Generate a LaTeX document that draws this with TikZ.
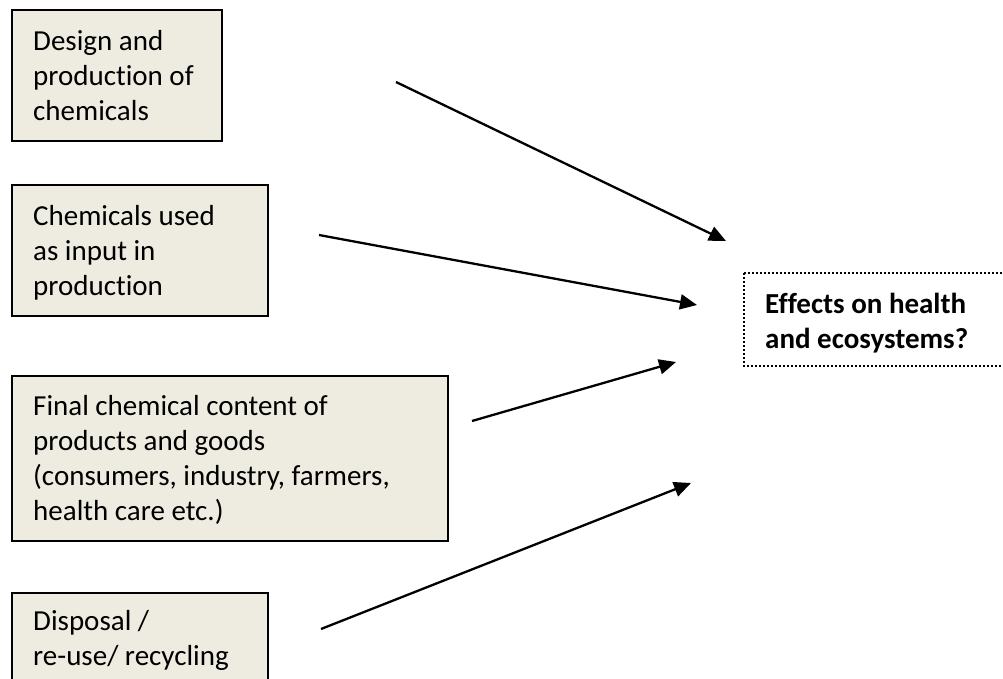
\documentclass[tikz,border=0pt]{standalone}
\usepackage{fontspec}
\setmainfont{Carlito}[Ligatures=NoCommon]
\usetikzlibrary{arrows.meta}
\definecolor{boxfill}{HTML}{EEECE1}
\tikzset{
  stagebox/.style={draw=black, line width=2.5pt, fill=boxfill},
  effbox/.style={draw=black, line width=2.5pt, dash pattern=on 2pt off 2pt},
  lbl/.style={anchor=base west, inner sep=0pt, font=\fontsize{29}{35}\selectfont},
  flow/.style={line width=2.3pt, -{Triangle[length=17pt,width=15pt]}}
}
\newcommand{\lines}[1]{\begin{tabular}[t]{@{}l@{}}#1\end{tabular}}
\begin{document}
\begin{tikzpicture}[x=1pt,y=-1pt]
\useasboundingbox (0,0) rectangle (1003,678);
\clip (0,0) rectangle (1003,678);
% boxes
\draw[stagebox] (12,10) rectangle (222,141);
\node[lbl] (t1) at (33,50) {\lines{Design and\\production of\\chemicals}};
\draw[stagebox] (12,185) rectangle (268,316);
\node[lbl] (t2) at (33,225) {\lines{Chemicals used\\as input in\\production}};
\draw[stagebox] (12,376) rectangle (448,541);
\node[lbl] (t3) at (33,415) {\lines{Final chemical content of\\products and goods\\(consumers, industry, farmers,\\health care etc.)}};
\draw[stagebox] (12,593) rectangle (268,720);
\node[lbl] (t4) at (33,630) {\lines{Disposal /\\re-use/ recycling}};
\draw[effbox] (744,273) rectangle (1020,366);
\node[lbl, font=\fontsize{29}{35}\selectfont\bfseries] (t5) at (765,313) {\lines{Effects on health\\and ecosystems?}};
% connectors
\coordinate (a1) at (396,82);  \coordinate (b1) at (726,241);
\coordinate (a2) at (319,235); \coordinate (b2) at (697,305);
\coordinate (a3) at (472,421); \coordinate (b3) at (676,362);
\coordinate (a4) at (321,629); \coordinate (b4) at (691,483);
\draw[flow] (a1) -- (b1);
\draw[flow] (a2) -- (b2);
\draw[flow] (a3) -- (b3);
\draw[flow] (a4) -- (b4);
\end{tikzpicture}
\end{document}
